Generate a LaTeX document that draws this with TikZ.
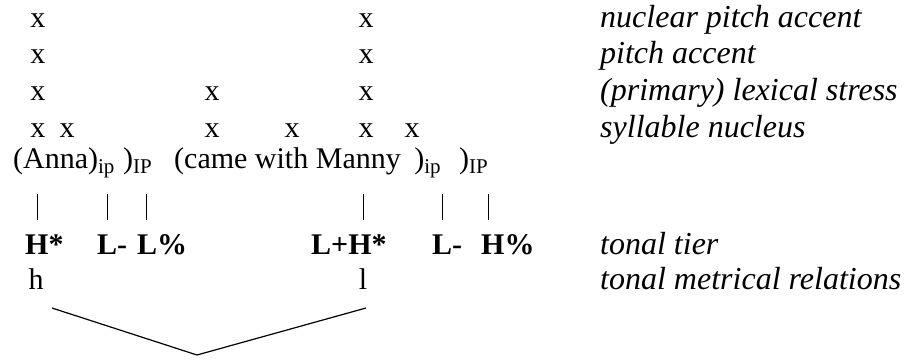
\documentclass[tikz,border=0pt]{standalone}
\usepackage{fontspec}
\setmainfont{Liberation Serif}
\usepackage{tikz}

\begin{document}
\begin{tikzpicture}[x=1pt,y=-1pt,
    every node/.style={inner sep=0pt, font=\fontsize{30}{36}\selectfont},
    xmark/.style={anchor=base},
    tone/.style={anchor=base west, font=\fontsize{30}{36}\selectfont\bfseries},
    tier/.style={anchor=base west, font=\fontsize{32}{38}\selectfont\itshape}]
    \useasboundingbox (0,0) rectangle (913,360);
    % metrical grid
    \foreach \c in {38,366} {\node[xmark] (nuc\c) at (\c,27) {x};}
    \foreach \c in {38,366} {\node[xmark] (acc\c) at (\c,63) {x};}
    \foreach \c in {38,212,366} {\node[xmark] (str\c) at (\c,100) {x};}
    \foreach \c in {38,67,212,292,366,412} {\node[xmark] (syl\c) at (\c,137) {x};}
    % phrasing
    \node[anchor=base west] (anna) at (13,168) {(Anna)\textsubscript{ip}};
    \node[anchor=base west] (ipA) at (123,168) {)\textsubscript{IP}};
    \node[anchor=base west] (manny) at (174,168) {(came with Manny\hspace{0.45em})\textsubscript{ip}};
    \node[anchor=base west] (ipB) at (459,168) {)\textsubscript{IP}};
    % association lines
    \foreach \c in {37,107,146,363,442,488} {
        \coordinate (top\c) at (\c,194); \coordinate (bot\c) at (\c,220);
        \draw[line width=0.8pt] (top\c) -- (bot\c);
    }
    % tones
    \node[tone] (hstar) at (25,254) {H*};
    \node[tone] (lminA) at (97,254) {L-};
    \node[tone] (lpct) at (137,254) {L\%};
    \node[tone] (lhstar) at (311,254) {L+H*};
    \node[tone] (lminB) at (432,254) {L-};
    \node[tone] (hpct) at (481,254) {H\%};
    \node[anchor=base] (hrel) at (36,289) {h};
    \node[anchor=base] (lrel) at (363,289) {l};
    % relation
    \coordinate (vl) at (52,308); \coordinate (vm) at (197,355); \coordinate (vr) at (366,308);
    \draw[line width=1.2pt] (vl) -- (vm) -- (vr);
    % tier labels
    \node[tier] at (600,27) {nuclear pitch accent};
    \node[tier] at (600,63) {pitch accent};
    \node[tier] at (600,100) {(primary) lexical stress};
    \node[tier] at (600,137) {syllable nucleus};
    \node[tier] at (600,254) {tonal tier};
    \node[tier] at (600,289) {tonal metrical relations};
\end{tikzpicture}
\end{document}
